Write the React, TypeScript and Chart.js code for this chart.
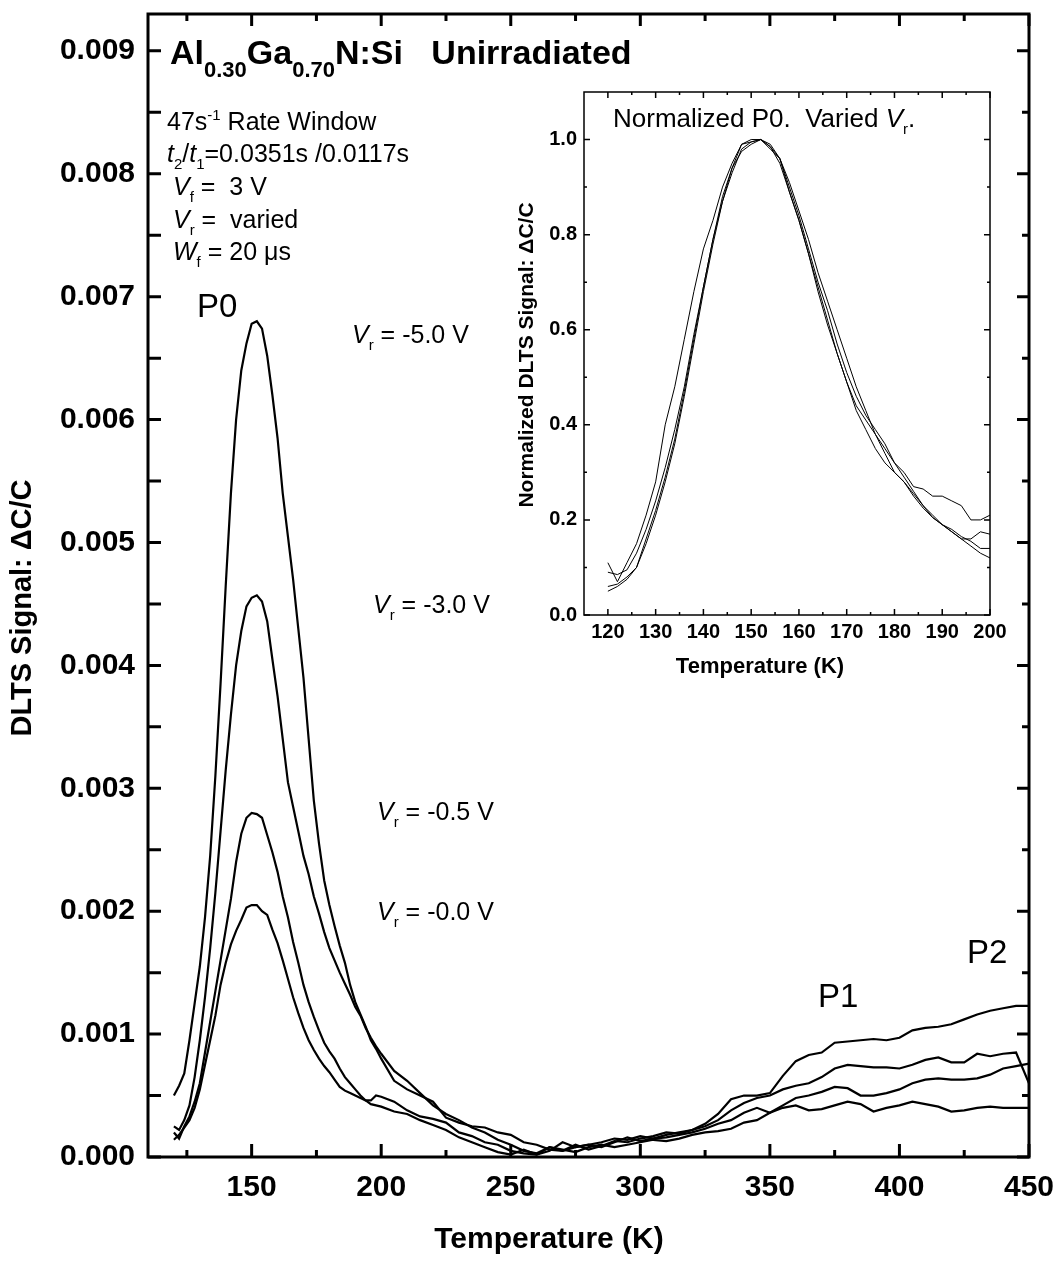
import React, { useEffect, useRef } from "react";
import { Chart, registerables } from "chart.js";

Chart.register(...registerables);

const FONT = '"Liberation Sans", Arial, Helvetica, sans-serif';

// ---------------- data (main panel) ----------------
// Temperature (K)
const temperatureK = [
  120, 122, 124, 126, 128, 130, 132, 134, 136, 138, 140, 142, 144, 146, 148, 150, 152, 154, 156, 158,
  160, 162, 164, 166, 168, 170, 172, 174, 176, 178, 180, 182, 184, 186, 188, 190, 192, 194, 196, 198, 200,
  205, 210, 215, 220, 225, 230, 235, 240, 245, 250, 255, 260, 265, 270, 275, 280, 285, 290, 295, 300,
  305, 310, 315, 320, 325, 330, 335, 340, 345, 350, 355, 360, 365, 370, 375, 380, 385, 390, 395, 400,
  405, 410, 415, 420, 425, 430, 435, 440, 445, 450,
];
// DLTS signal dC/C in units of 1e-3
const signalVr50 = [
  0.50, 0.58, 0.68, 0.95, 1.25, 1.55, 1.95, 2.45, 3.10, 3.85, 4.65, 5.40, 6.00, 6.40, 6.62, 6.78, 6.80, 6.74, 6.52, 6.20,
  5.85, 5.40, 5.05, 4.70, 4.30, 3.90, 3.40, 2.90, 2.55, 2.25, 2.05, 1.88, 1.72, 1.58, 1.40, 1.26, 1.16, 1.06, 0.95, 0.88, 0.80,
  0.62, 0.55, 0.50, 0.45, 0.32, 0.28, 0.25, 0.24, 0.20, 0.18, 0.12, 0.10, 0.06, 0.05, 0.08, 0.10, 0.12, 0.15, 0.14, 0.17,
  0.15, 0.18, 0.20, 0.22, 0.27, 0.35, 0.47, 0.50, 0.50, 0.52, 0.66, 0.78, 0.83, 0.85, 0.93, 0.94, 0.95, 0.96, 0.95, 0.97,
  1.03, 1.05, 1.06, 1.08, 1.12, 1.16, 1.19, 1.21, 1.23, 1.23,
];
const signalVr30 = [
  0.25, 0.22, 0.30, 0.42, 0.65, 0.95, 1.30, 1.70, 2.15, 2.65, 3.15, 3.60, 4.00, 4.28, 4.48, 4.55, 4.57, 4.52, 4.36, 4.05,
  3.75, 3.40, 3.05, 2.85, 2.65, 2.45, 2.30, 2.12, 1.98, 1.83, 1.70, 1.60, 1.50, 1.41, 1.32, 1.22, 1.15, 1.05, 0.97, 0.90, 0.84,
  0.70, 0.62, 0.52, 0.42, 0.35, 0.30, 0.24, 0.20, 0.14, 0.10, 0.05, 0.03, 0.08, 0.05, 0.10, 0.06, 0.09, 0.13, 0.12, 0.15,
  0.17, 0.20, 0.19, 0.22, 0.25, 0.30, 0.38, 0.44, 0.48, 0.50, 0.55, 0.58, 0.60, 0.65, 0.72, 0.75, 0.74, 0.73, 0.73, 0.72,
  0.75, 0.79, 0.81, 0.77, 0.77, 0.84, 0.82, 0.84, 0.85, 0.60,
];
const signalVr05 = [
  0.20, 0.15, 0.25, 0.33, 0.45, 0.60, 0.85, 1.10, 1.35, 1.60, 1.85, 2.10, 2.40, 2.63, 2.76, 2.80, 2.79, 2.76, 2.62, 2.48,
  2.32, 2.12, 1.95, 1.75, 1.58, 1.40, 1.26, 1.14, 1.03, 0.93, 0.86, 0.80, 0.72, 0.65, 0.60, 0.55, 0.50, 0.46, 0.46, 0.50, 0.49,
  0.45, 0.38, 0.33, 0.31, 0.28, 0.20, 0.17, 0.12, 0.10, 0.05, 0.03, 0.02, 0.05, 0.12, 0.08, 0.10, 0.08, 0.12, 0.16, 0.13,
  0.15, 0.16, 0.18, 0.20, 0.23, 0.27, 0.30, 0.36, 0.40, 0.36, 0.42, 0.48, 0.50, 0.53, 0.57, 0.56, 0.50, 0.50, 0.52, 0.55,
  0.60, 0.63, 0.64, 0.63, 0.63, 0.64, 0.67, 0.72, 0.74, 0.76,
];
const signalVr00 = [
  0.14, 0.18, 0.24, 0.30, 0.40, 0.55, 0.75, 0.95, 1.15, 1.40, 1.58, 1.73, 1.84, 1.93, 2.03, 2.05, 2.05, 2.00, 1.97, 1.85,
  1.74, 1.60, 1.45, 1.30, 1.17, 1.05, 0.95, 0.87, 0.80, 0.74, 0.69, 0.63, 0.57, 0.54, 0.52, 0.50, 0.48, 0.46, 0.43, 0.42, 0.41,
  0.37, 0.35, 0.30, 0.26, 0.22, 0.16, 0.12, 0.08, 0.04, 0.02, 0.06, 0.02, 0.08, 0.06, 0.04, 0.08, 0.10, 0.08, 0.10, 0.12,
  0.14, 0.13, 0.15, 0.18, 0.20, 0.21, 0.23, 0.28, 0.30, 0.36, 0.40, 0.42, 0.38, 0.39, 0.42, 0.45, 0.43, 0.37, 0.40, 0.42,
  0.45, 0.43, 0.41, 0.37, 0.38, 0.40, 0.41, 0.40, 0.40, 0.40,
];
const signalUnit = 1e-3;

// ---------------- data (inset, normalized P0) ----------------
const insetTemperatureK = [
  120, 122, 124, 126, 128, 130, 132, 134, 136, 138, 140, 142, 144, 146, 148, 150, 152, 154, 156, 158,
  160, 162, 164, 166, 168, 170, 172, 174, 176, 178, 180, 182, 184, 186, 188, 190, 192, 194, 196, 198, 200,
];
const normVr50 = [
  0.05, 0.06, 0.075, 0.10, 0.16, 0.22, 0.29, 0.37, 0.47, 0.58, 0.69, 0.79, 0.88, 0.94, 0.975, 0.99, 1.0, 0.985, 0.95, 0.89,
  0.83, 0.76, 0.68, 0.61, 0.55, 0.49, 0.43, 0.39, 0.35, 0.32, 0.30, 0.28, 0.255, 0.23, 0.205, 0.19, 0.175, 0.16, 0.145, 0.13, 0.12,
];
const normVr30 = [
  0.06, 0.065, 0.08, 0.10, 0.15, 0.21, 0.28, 0.36, 0.46, 0.57, 0.68, 0.78, 0.87, 0.93, 0.98, 0.995, 1.0, 0.99, 0.96, 0.91,
  0.85, 0.79, 0.72, 0.66, 0.60, 0.54, 0.48, 0.43, 0.38, 0.34, 0.30, 0.28, 0.25, 0.225, 0.205, 0.19, 0.18, 0.165, 0.155, 0.14, 0.14,
];
const normVr05 = [
  0.09, 0.085, 0.095, 0.13, 0.18, 0.24, 0.31, 0.39, 0.48, 0.59, 0.69, 0.79, 0.87, 0.94, 0.99, 0.995, 1.0, 0.985, 0.96, 0.89,
  0.83, 0.76, 0.69, 0.62, 0.55, 0.49, 0.44, 0.41, 0.38, 0.35, 0.32, 0.29, 0.26, 0.23, 0.21, 0.19, 0.175, 0.16, 0.16, 0.175, 0.17,
];
const normVr00 = [
  0.11, 0.07, 0.11, 0.15, 0.21, 0.28, 0.40, 0.48, 0.58, 0.68, 0.77, 0.83, 0.90, 0.95, 0.99, 1.0, 1.0, 0.98, 0.96, 0.90,
  0.84, 0.77, 0.70, 0.64, 0.57, 0.51, 0.46, 0.42, 0.39, 0.36, 0.32, 0.30, 0.27, 0.265, 0.25, 0.25, 0.24, 0.23, 0.20, 0.20, 0.21,
];

// ---------------- ticks ----------------
const mainXTicks = [150, 200, 250, 300, 350, 400, 450];
const mainXMinorTicks = [125, 175, 225, 275, 325, 375, 425];
const mainYTicks = [0, 0.001, 0.002, 0.003, 0.004, 0.005, 0.006, 0.007, 0.008, 0.009];
const mainYMinorTicks = [0.0005, 0.0015, 0.0025, 0.0035, 0.0045, 0.0055, 0.0065, 0.0075, 0.0085];
const insetXTicks = [120, 130, 140, 150, 160, 170, 180, 190, 200];
const insetXMinorTicks = [125, 135, 145, 155, 165, 175, 185, 195];
const insetYTicks = [0, 0.2, 0.4, 0.6, 0.8, 1.0];
const insetYMinorTicks = [0.1, 0.3, 0.5, 0.7, 0.9];

type Seg = { t: string; size: number; bold?: boolean; italic?: boolean; dy?: number };

function drawRich(ctx: CanvasRenderingContext2D, x: number, y: number, segs: Seg[]) {
  let cx = x;
  ctx.textAlign = "left";
  ctx.textBaseline = "alphabetic";
  for (const s of segs) {
    ctx.font = `${s.italic ? "italic " : ""}${s.bold ? "bold " : ""}${s.size}px ${FONT}`;
    ctx.fillText(s.t, cx, y + (s.dy || 0));
    cx += ctx.measureText(s.t).width;
  }
}

function drawCentered(ctx: CanvasRenderingContext2D, text: string, x: number, y: number, font: string, rotate = false) {
  ctx.save();
  ctx.translate(x, y);
  if (rotate) ctx.rotate(-Math.PI / 2);
  ctx.font = font;
  ctx.textAlign = "center";
  ctx.textBaseline = "middle";
  ctx.fillText(text, 0, 0);
  ctx.restore();
}

type FrameCfg = {
  frameWidth: number;
  tickWidth: number;
  xMajor: number[];
  xMinor: number[];
  yMajor: number[];
  yMinor: number[];
  bottomLen: [number, number];
  topLen: [number, number];
  leftLen: [number, number];
  rightLen: [number, number];
  text: (ctx: CanvasRenderingContext2D) => void;
};

function framePlugin(cfg: FrameCfg) {
  return {
    id: "frameTicks",
    afterDraw(chart: any) {
      const { ctx, chartArea: a, scales } = chart;
      const xs = scales.x;
      const ys = scales.y;
      ctx.save();
      ctx.strokeStyle = "#000";
      ctx.lineCap = "butt";
      ctx.lineWidth = cfg.tickWidth;
      ctx.beginPath();
      const xt = (vals: number[], i: number) => {
        for (const v of vals) {
          const px = xs.getPixelForValue(v);
          ctx.moveTo(px, a.bottom);
          ctx.lineTo(px, a.bottom - cfg.bottomLen[i]);
          ctx.moveTo(px, a.top);
          ctx.lineTo(px, a.top + cfg.topLen[i]);
        }
      };
      const yt = (vals: number[], i: number) => {
        for (const v of vals) {
          const py = ys.getPixelForValue(v);
          ctx.moveTo(a.left, py);
          ctx.lineTo(a.left + cfg.leftLen[i], py);
          ctx.moveTo(a.right, py);
          ctx.lineTo(a.right - cfg.rightLen[i], py);
        }
      };
      xt(cfg.xMajor, 0);
      xt(cfg.xMinor, 1);
      yt(cfg.yMajor, 0);
      yt(cfg.yMinor, 1);
      ctx.stroke();
      ctx.lineWidth = cfg.frameWidth;
      ctx.lineJoin = "miter";
      ctx.strokeRect(a.left, a.top, a.right - a.left, a.bottom - a.top);
      ctx.fillStyle = "#000";
      cfg.text(ctx);
      ctx.restore();
    },
  };
}

const pts = (xs: number[], ys: number[], unit = 1) => xs.map((x, i) => ({ x, y: ys[i] * unit }));

export default function App() {
  const mainRef = useRef<HTMLCanvasElement>(null);
  const insetRef = useRef<HTMLCanvasElement>(null);

  useEffect(() => {
    if (!mainRef.current || !insetRef.current) return;

    const lineDs = (data: any[], w: number) => ({
      data,
      borderColor: "#000",
      borderWidth: w,
      pointRadius: 0,
      fill: false,
      tension: 0,
    });

    const mainChart = new Chart(mainRef.current, {
      type: "line",
      data: {
        datasets: [
          lineDs(pts(temperatureK, signalVr50, signalUnit), 2.2),
          lineDs(pts(temperatureK, signalVr30, signalUnit), 2.2),
          lineDs(pts(temperatureK, signalVr05, signalUnit), 2.2),
          lineDs(pts(temperatureK, signalVr00, signalUnit), 2.2),
        ],
      },
      options: {
        animation: false,
        responsive: false,
        maintainAspectRatio: false,
        layout: { padding: { left: 0, top: 14, right: 31, bottom: 0 } },
        plugins: { legend: { display: false }, tooltip: { enabled: false }, title: { display: false } },
        scales: {
          x: {
            type: "linear",
            min: 110,
            max: 450,
            afterBuildTicks: (s: any) => {
              s.ticks = mainXTicks.map((v) => ({ value: v }));
            },
            afterFit: (s: any) => {
              s.height = 113;
              s.paddingLeft = 0;
              s.paddingRight = 0;
            },
            grid: { display: false, drawTicks: false },
            border: { display: false },
            ticks: {
              font: { family: FONT, size: 30, weight: "bold" },
              color: "#000",
              padding: 13,
              maxRotation: 0,
              autoSkip: false,
            },
          },
          y: {
            type: "linear",
            min: 0,
            max: 0.0093,
            afterBuildTicks: (s: any) => {
              s.ticks = mainYTicks.map((v) => ({ value: v }));
            },
            afterFit: (s: any) => {
              s.width = 148;
              s.paddingTop = 0;
              s.paddingBottom = 0;
            },
            grid: { display: false, drawTicks: false },
            border: { display: false },
            ticks: {
              font: { family: FONT, size: 30, weight: "bold" },
              color: "#000",
              padding: 13,
              autoSkip: false,
              callback: (v: any) => Number(v).toFixed(3),
            },
          },
        },
      },
      plugins: [
        framePlugin({
          frameWidth: 3,
          tickWidth: 3,
          xMajor: mainXTicks,
          xMinor: mainXMinorTicks,
          yMajor: mainYTicks,
          yMinor: mainYMinorTicks,
          bottomLen: [13, 7],
          topLen: [12, 7],
          leftLen: [13, 13],
          rightLen: [12, 7],
          text: (ctx) => {
            drawRich(ctx, 170, 64, [
              { t: "Al", size: 34, bold: true },
              { t: "0.30", size: 22, bold: true, dy: 13 },
              { t: "Ga", size: 34, bold: true },
              { t: "0.70", size: 22, bold: true, dy: 13 },
              { t: "N:Si   Unirradiated", size: 34, bold: true },
            ]);
            drawRich(ctx, 167, 130, [
              { t: "47s", size: 25 },
              { t: "-1", size: 15, dy: -10 },
              { t: " Rate Window", size: 25 },
            ]);
            drawRich(ctx, 167, 162, [
              { t: "t", size: 25, italic: true },
              { t: "2", size: 15, dy: 7 },
              { t: "/", size: 25 },
              { t: "t", size: 25, italic: true },
              { t: "1", size: 15, dy: 7 },
              { t: "=0.0351s /0.0117s", size: 25 },
            ]);
            drawRich(ctx, 173, 195, [
              { t: "V", size: 25, italic: true },
              { t: "f", size: 15, dy: 7 },
              { t: " =  3 V", size: 25 },
            ]);
            drawRich(ctx, 173, 228, [
              { t: "V", size: 25, italic: true },
              { t: "r", size: 15, dy: 7 },
              { t: " =  varied", size: 25 },
            ]);
            drawRich(ctx, 173, 260, [
              { t: "W", size: 25, italic: true },
              { t: "f", size: 15, dy: 7 },
              { t: " = 20 \u03bcs", size: 25 },
            ]);
            drawRich(ctx, 197, 317, [{ t: "P0", size: 33 }]);
            const vr = (x: number, y: number, label: string) =>
              drawRich(ctx, x, y, [
                { t: "V", size: 25, italic: true },
                { t: "r", size: 15, dy: 7 },
                { t: label, size: 25 },
              ]);
            vr(352, 343, " = -5.0 V");
            vr(373, 613, " = -3.0 V");
            vr(377, 820, " = -0.5 V");
            vr(377, 920, " = -0.0 V");
            drawRich(ctx, 818, 1007, [{ t: "P1", size: 33 }]);
            drawRich(ctx, 967, 963, [{ t: "P2", size: 33 }]);
            drawCentered(ctx, "Temperature (K)", 549, 1240, `bold 30px ${FONT}`);
            drawCentered(ctx, "DLTS Signal: \u0394C/C", 23, 608, `bold 29px ${FONT}`, true);
          },
        }),
      ],
    } as any);

    const insetChart = new Chart(insetRef.current, {
      type: "line",
      data: {
        datasets: [
          lineDs(pts(insetTemperatureK, normVr50), 1),
          lineDs(pts(insetTemperatureK, normVr30), 1),
          lineDs(pts(insetTemperatureK, normVr05), 1),
          lineDs(pts(insetTemperatureK, normVr00), 1),
        ],
      },
      options: {
        animation: false,
        responsive: false,
        maintainAspectRatio: false,
        layout: { padding: { left: 0, top: 12, right: 50, bottom: 0 } },
        plugins: { legend: { display: false }, tooltip: { enabled: false }, title: { display: false } },
        scales: {
          x: {
            type: "linear",
            min: 115,
            max: 200,
            afterBuildTicks: (s: any) => {
              s.ticks = insetXTicks.map((v) => ({ value: v }));
            },
            afterFit: (s: any) => {
              s.height = 85;
              s.paddingLeft = 0;
              s.paddingRight = 0;
            },
            grid: { display: false, drawTicks: false },
            border: { display: false },
            ticks: {
              font: { family: FONT, size: 20, weight: "bold" },
              color: "#000",
              padding: 5,
              maxRotation: 0,
              autoSkip: false,
            },
          },
          y: {
            type: "linear",
            min: 0,
            max: 1.1,
            afterBuildTicks: (s: any) => {
              s.ticks = insetYTicks.map((v) => ({ value: v }));
            },
            afterFit: (s: any) => {
              s.width = 84;
              s.paddingTop = 0;
              s.paddingBottom = 0;
            },
            grid: { display: false, drawTicks: false },
            border: { display: false },
            ticks: {
              font: { family: FONT, size: 20, weight: "bold" },
              color: "#000",
              padding: 7,
              autoSkip: false,
              callback: (v: any) => Number(v).toFixed(1),
            },
          },
        },
      },
      plugins: [
        framePlugin({
          frameWidth: 1.5,
          tickWidth: 1.5,
          xMajor: insetXTicks,
          xMinor: insetXMinorTicks,
          yMajor: insetYTicks,
          yMinor: insetYMinorTicks,
          bottomLen: [6, 3],
          topLen: [6, 3],
          leftLen: [6, 3],
          rightLen: [6, 3],
          text: (ctx) => {
            drawRich(ctx, 113, 47, [
              { t: "Normalized P0.  Varied ", size: 26 },
              { t: "V", size: 26, italic: true },
              { t: "r", size: 15, dy: 7 },
              { t: ".", size: 26 },
            ]);
            drawCentered(ctx, "Temperature (K)", 260, 587, `bold 22px ${FONT}`);
            drawCentered(ctx, "Normalized DLTS Signal: \u0394C/C", 27, 275, `bold 21px ${FONT}`, true);
          },
        }),
      ],
    } as any);

    return () => {
      mainChart.destroy();
      insetChart.destroy();
    };
  }, []);

  return (
    <div style={{ position: "absolute", left: 0, top: 0, width: 1060, height: 1270, background: "#fff" }}>
      <canvas ref={mainRef} width={1060} height={1270} style={{ position: "absolute", left: 0, top: 0, display: "block" }} />
      <canvas ref={insetRef} width={540} height={620} style={{ position: "absolute", left: 500, top: 80, display: "block" }} />
    </div>
  );
}
